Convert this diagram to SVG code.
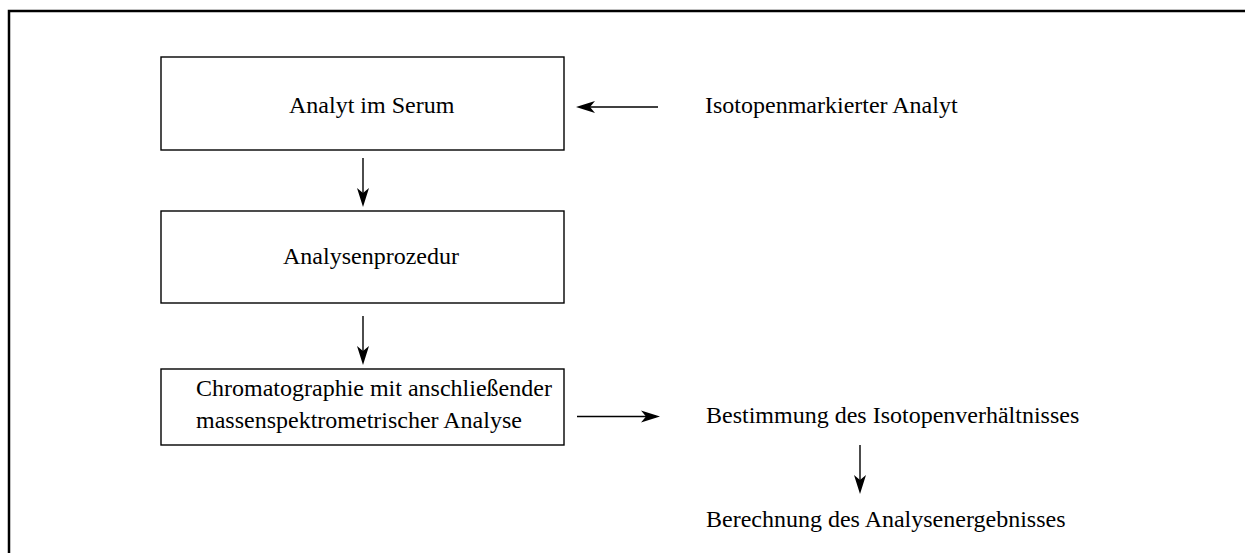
<svg xmlns="http://www.w3.org/2000/svg" width="1245" height="553" viewBox="0 0 1245 553">
<style>
.box{fill:#fff;stroke:#000;stroke-width:1.4}
.t{font-family:"Liberation Serif","Times New Roman",serif;font-size:24px;fill:#000}
.c{stroke:#000;stroke-width:1.4;fill:none}
</style>
<defs>
<marker id="ah" markerUnits="userSpaceOnUse" markerWidth="20" markerHeight="14" refX="0" refY="0" orient="auto" overflow="visible">
<path d="M4,0 L-15,-6 L-10,0 L-15,6 Z" fill="#000"/>
</marker>
</defs>
<rect x="9" y="11" width="1250" height="560" fill="none" stroke="#000" stroke-width="2.5"/>
<g id="n1"><rect class="box" x="161" y="57" width="403" height="93"/><text class="t" x="289" y="113">Analyt im Serum</text></g>
<g id="n2"><rect class="box" x="161" y="211" width="403" height="92"/><text class="t" x="283" y="264">Analysenprozedur</text></g>
<g id="n3"><rect class="box" x="161" y="369" width="403" height="76"/><text class="t" x="196" y="396">Chromatographie mit anschließender</text><text class="t" x="196" y="428">massenspektrometrischer Analyse</text></g>
<g id="n4"><text class="t" x="705" y="113">Isotopenmarkierter Analyt</text></g>
<g id="n5"><text class="t" x="706" y="423">Bestimmung des Isotopenverhältnisses</text></g>
<g id="n6"><text class="t" x="706" y="527">Berechnung des Analysenergebnisses</text></g>
<g id="connectors">
<line class="c" x1="363" y1="158" x2="363" y2="203" marker-end="url(#ah)"/>
<line class="c" x1="363" y1="316" x2="363" y2="361" marker-end="url(#ah)"/>
<line class="c" x1="658" y1="107" x2="580" y2="107" marker-end="url(#ah)"/>
<line class="c" x1="577" y1="416.5" x2="656" y2="416.5" marker-end="url(#ah)"/>
<line class="c" x1="860" y1="445" x2="860" y2="490" marker-end="url(#ah)"/>
</g>
</svg>
